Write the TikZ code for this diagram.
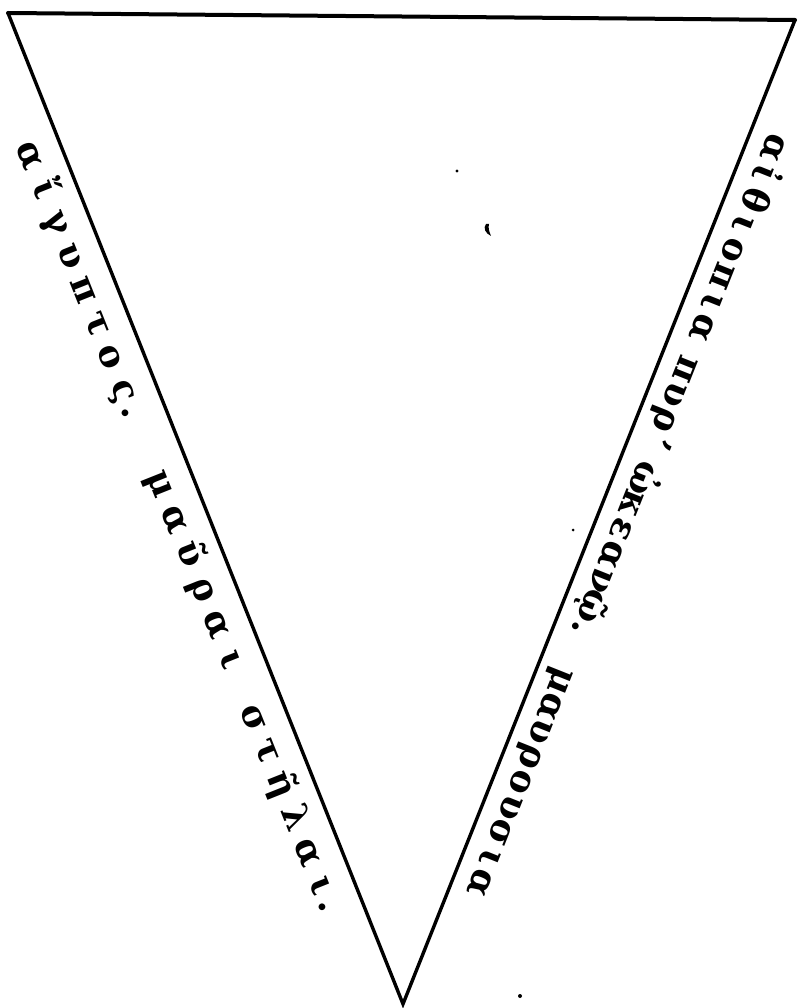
\documentclass[tikz,border=0pt]{standalone}
\usepackage{fontspec}
\setmainfont{DejaVu Serif}
\usetikzlibrary{calc}
\newlength\lsp
\newcommand\bx[1]{\makebox[\lsp][c]{#1}}
\tikzset{
  edge/.style={line width=3.4pt, line join=miter, line cap=round},
  topedge/.style={line width=4pt, line cap=round},
  lt/.style={font=\fontsize{36}{40}\selectfont\bfseries, inner sep=0pt, anchor=base west, rotate=-68.27},
  rt/.style={font=\fontsize{36}{40}\selectfont\bfseries, inner sep=0pt, anchor=base west, rotate=-111.73},
  speck/.style={fill=black, draw=none}
}
\begin{document}
\begin{tikzpicture}[x=1pt,y=-1pt]
\useasboundingbox (0,0) rectangle (798,1008);
\coordinate (A) at (8,13);
\coordinate (B) at (795,20);
\coordinate (C) at (403,1004);
% triangle
\draw[edge] (A) -- (C) -- (B);
\draw[topedge] (A) -- (B);
% left side: reading downward, tops toward the line
\node[lt] (aigyptos) at ($(A)!{122.75/1066.8}!(C) + (-39.3,15.7)$)
  {\setlength\lsp{36.1pt}\bx{α}\bx{ἴ}\bx{γ}\bx{υ}\bx{π}\bx{τ}\bx{ο}\bx{ς}\makebox[0pt][l]{\kern-3pt.}};
\node[lt] (mayrai) at ($(A)!{475.1/1066.8}!(C) + (-39.3,15.7)$)
  {\setlength\lsp{37.8pt}\bx{μ}\bx{α}\bx{ῦ}\bx{ρ}\bx{α}\bx{ι}};
\node[lt] (stelai) at ($(A)!{727.4/1066.8}!(C) + (-39.3,15.7)$)
  {\setlength\lsp{36.2pt}\bx{σ}\bx{τ}\bx{ῆ}\bx{λ}\bx{α}\bx{ι}\makebox[0pt][l]{\kern-4pt.}};
% right side: reading downward, tops away from the line
\node[rt] (aithiopia) at ($(B)!{112.25/1059.2}!(C) + (16.4,6.55)$)
  {\setlength\lsp{27.7pt}\bx{α}\bx{ἰ}\bx{θ}\bx{ι}\bx{ο}\bx{π}\bx{ι}\bx{α}};
\node[rt] (pyr) at ($(B)!{351.05/1059.2}!(C) + (16.4,6.55)$)
  {\setlength\lsp{27.5pt}\bx{π}\bx{υ}\bx{ρ}\makebox[0pt][l]{\kern3pt ’}};
\node[rt] (okeano) at ($(B)!{468.3/1059.2}!(C) + (16.4,6.55)$)
  {\setlength\lsp{27.6pt}\bx{ὠ}\bx{κ}\bx{ε}\bx{α}\bx{ν}\bx{ῷ}\makebox[0pt][l]{\kern4pt.}};
\node[rt] (mayrousia) at ($(B)!{687.65/1059.2}!(C) + (16.4,6.55)$)
  {\setlength\lsp{27.1pt}\bx{μ}\bx{α}\bx{υ}\bx{ρ}\bx{ο}\bx{υ}\bx{σ}\bx{ι}\bx{α}};
% specks of the print
\fill[speck] (457,171) circle (1.6);
\fill[speck] (486,224) .. controls (483,228) and (485,233) .. (491,236) .. controls (489,231) and (488,228) .. (489,224) -- cycle;
\fill[speck] (573,530) circle (1.5);
\fill[speck] (520,996) circle (2);
\end{tikzpicture}
\end{document}
